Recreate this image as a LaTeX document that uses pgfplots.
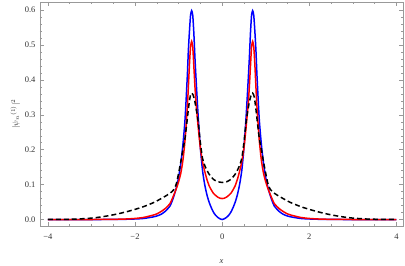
\documentclass[border=0pt]{standalone}
\usepackage{pgfplots}
\pgfplotsset{compat=1.18}
\usepackage{pgfplotstable}
\usepackage{fontspec}
\setmainfont{Liberation Serif}
\pgfplotstableread{
x b r k
-4.0 0 0 0.0001
-3.6 0 0 0.0005
-3.3 0 0 0.0015
-3.0 0 0 0.004
-2.8 0 0.0001 0.007
-2.6 0.0001 0.0003 0.011
-2.4 0.0003 0.0007 0.016
-2.2 0.0007 0.0015 0.022
-2.0 0.0015 0.003 0.029
-1.8 0.003 0.006 0.037
-1.6 0.007 0.012 0.047
-1.5 0.010 0.016 0.053
-1.4 0.015 0.023 0.060
-1.3 0.024 0.032 0.067
-1.2 0.038 0.045 0.075
-1.15 0.052 0.058 0.080
-1.1 0.070 0.073 0.087
-1.05 0.092 0.089 0.103
-1.0 0.120 0.108 0.132
-0.95 0.160 0.132 0.165
-0.9 0.215 0.170 0.200
-0.85 0.290 0.230 0.235
-0.8 0.410 0.320 0.288
-0.775 0.485 0.380 0.316
-0.75 0.540 0.445 0.340
-0.725 0.585 0.495 0.357
-0.7 0.598 0.510 0.362
-0.675 0.585 0.495 0.359
-0.65 0.535 0.440 0.350
-0.625 0.465 0.382 0.337
-0.6 0.405 0.335 0.320
-0.55 0.295 0.265 0.280
-0.5 0.205 0.205 0.220
-0.45 0.140 0.165 0.175
-0.4 0.100 0.138 0.155
-0.35 0.071 0.115 0.141
-0.3 0.050 0.097 0.130
-0.25 0.034 0.085 0.122
-0.2 0.021 0.075 0.115
-0.15 0.012 0.069 0.111
-0.1 0.006 0.064 0.108
-0.05 0.002 0.061 0.107
0 0 0.060 0.106
0.05 0.002 0.061 0.107
0.1 0.006 0.064 0.108
0.15 0.012 0.069 0.111
0.2 0.021 0.075 0.115
0.25 0.034 0.085 0.122
0.3 0.050 0.097 0.130
0.35 0.071 0.115 0.141
0.4 0.100 0.138 0.155
0.45 0.140 0.165 0.175
0.5 0.205 0.205 0.220
0.55 0.295 0.265 0.280
0.6 0.405 0.335 0.320
0.625 0.465 0.382 0.337
0.65 0.535 0.440 0.350
0.675 0.585 0.495 0.359
0.7 0.598 0.510 0.362
0.725 0.585 0.495 0.357
0.75 0.540 0.445 0.340
0.775 0.485 0.380 0.316
0.8 0.410 0.320 0.288
0.85 0.290 0.230 0.235
0.9 0.215 0.170 0.200
0.95 0.160 0.132 0.165
1.0 0.120 0.108 0.132
1.05 0.092 0.089 0.103
1.1 0.070 0.073 0.087
1.15 0.052 0.058 0.080
1.2 0.038 0.045 0.075
1.3 0.024 0.032 0.067
1.4 0.015 0.023 0.060
1.5 0.010 0.016 0.053
1.6 0.007 0.012 0.047
1.8 0.003 0.006 0.037
2.0 0.0015 0.003 0.029
2.2 0.0007 0.0015 0.022
2.4 0.0003 0.0007 0.016
2.6 0.0001 0.0003 0.011
2.8 0 0.0001 0.007
3.0 0 0 0.004
3.3 0 0 0.0015
3.6 0 0 0.0005
4.0 0 0 0.0001
}\datatable
\begin{document}
\begin{tikzpicture}
\begin{axis}[
  scale only axis,
  width=363bp, height=224bp,
  xmin=-4.18, xmax=4.15,
  ymin=-0.0186, ymax=0.623,
  xtick={-4,-2,0,2,4},
  xticklabels={−4,−2,0,2,4},
  ytick={0,0.1,0.2,0.3,0.4,0.5,0.6},
  yticklabels={0.0,0.1,0.2,0.3,0.4,0.5,0.6},
  minor x tick num=3,
  minor y tick num=4,
  tick align=inside,
  major tick length=4bp,
  minor tick length=2bp,
  axis line style={gray!80},
  every tick/.style={gray!80, line width=0.4pt},
  tick label style={font=\fontsize{8.5}{9}\selectfont, black!80},
  xticklabel style={yshift=-4bp},
  yticklabel style={xshift=-1bp},
  xlabel={\textit{x}},
  xlabel style={font=\fontsize{8.5}{9}\selectfont, black!80, yshift=-14bp},
  ylabel={$|\psi_n{}^{(1)}|^2$},
  ylabel style={font=\fontsize{8}{9}\selectfont, black!80, yshift=-2bp},
]
\addplot[blue, line width=1.5pt, smooth, tension=0.4] table[x=x, y=b] {\datatable};
\addplot[red, line width=1.5pt, smooth, tension=0.4] table[x=x, y=r] {\datatable};
\addplot[black, line width=1.5pt, smooth, tension=0.4, dash pattern=on 5pt off 3pt] table[x=x, y=k] {\datatable};
\end{axis}
\pgfresetboundingbox
\path (current axis.south west) ++(-40bp,-40bp) rectangle ([shift={(2bp,2bp)}]current axis.north east);
\end{tikzpicture}
\end{document}
